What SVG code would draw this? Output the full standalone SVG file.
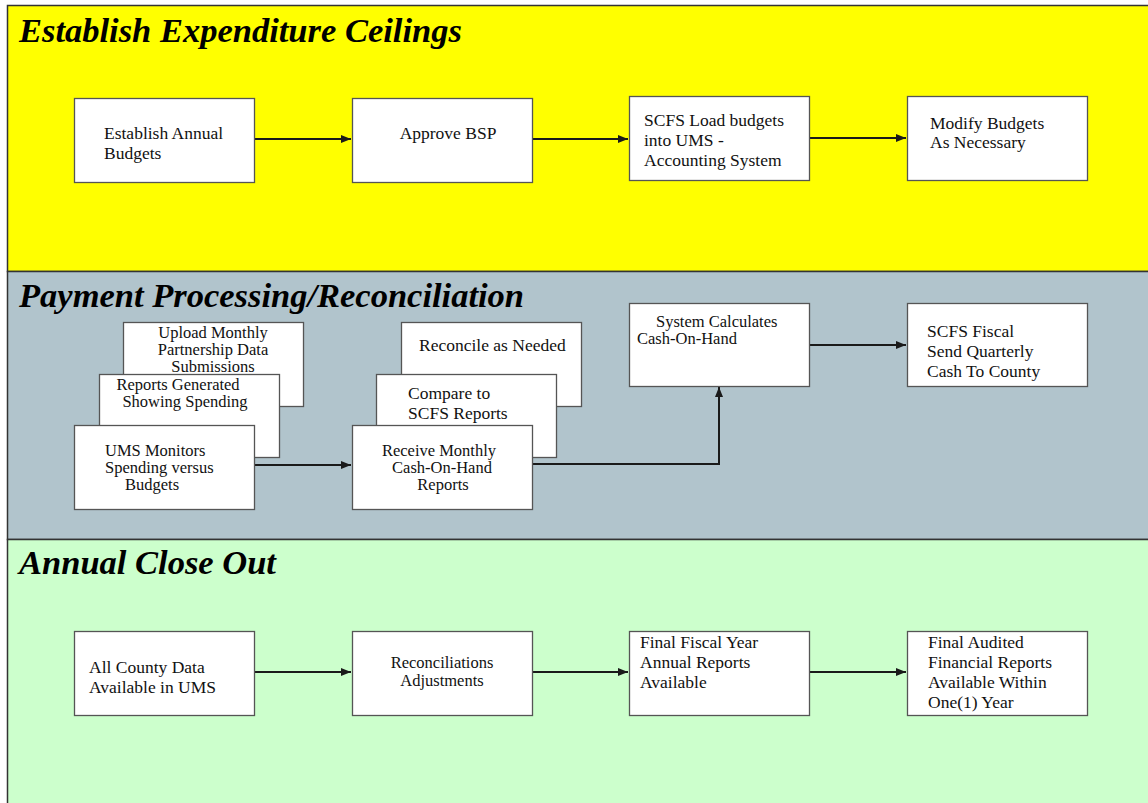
<svg xmlns="http://www.w3.org/2000/svg" width="1148" height="803" viewBox="0 0 1148 803">
<defs>
<marker id="arr" markerWidth="10" markerHeight="8" refX="10" refY="4" orient="auto" markerUnits="userSpaceOnUse">
<path d="M0,0 L10,4 L0,8 Z" fill="#1a1a1a"/>
</marker>
<style>
.lane{stroke:#333;stroke-width:1.5}
.title{font-family:"Liberation Serif",serif;font-style:italic;font-weight:bold;font-size:34.5px;fill:#000}
.box{fill:#fff;stroke:#555;stroke-width:1.3}
.t{font-family:"Liberation Serif",serif;font-size:17.5px;fill:#111}
.s{font-size:16.5px}
.m{text-anchor:middle}
.c{fill:none;stroke:#1a1a1a;stroke-width:2;marker-end:url(#arr)}
</style>
</defs>
<rect width="1148" height="803" fill="#fff"/>
<g id="lanes">
<rect class="lane" x="7.5" y="5.5" width="1150" height="266" fill="#ffff00"/>
<rect class="lane" x="7.5" y="271.5" width="1150" height="268" fill="#b1c4cc"/>
<rect class="lane" x="7.5" y="539.5" width="1150" height="280" fill="#ccffcc"/>
<text class="title" x="19" y="42">Establish Expenditure Ceilings</text>
<text class="title" x="19" y="307">Payment Processing/Reconciliation</text>
<text class="title" x="19" y="574">Annual Close Out</text>
</g>
<g id="connectors">
<line class="c" x1="255" y1="139" x2="351" y2="139"/>
<line class="c" x1="532" y1="139" x2="628" y2="139"/>
<line class="c" x1="809" y1="138" x2="906" y2="138"/>
<line class="c" x1="255" y1="465" x2="351" y2="465"/>
<polyline class="c" points="532,464 719,464 719,387"/>
<line class="c" x1="809" y1="345" x2="906" y2="345"/>
<line class="c" x1="255" y1="672" x2="351" y2="672"/>
<line class="c" x1="532" y1="672" x2="628" y2="672"/>
<line class="c" x1="809" y1="672" x2="906" y2="672"/>
</g>
<g id="n1"><rect class="box" x="74.5" y="98.5" width="180" height="84"/><text class="t" x="104" y="139">Establish Annual</text><text class="t" x="104" y="159">Budgets</text></g>
<g id="n2"><rect class="box" x="352.5" y="98.5" width="180" height="84"/><text class="t m" x="448" y="139">Approve BSP</text></g>
<g id="n3"><rect class="box" x="629.5" y="96.5" width="180" height="84"/><text class="t" x="644" y="126">SCFS Load budgets</text><text class="t" x="644" y="146">into UMS -</text><text class="t" x="644" y="166">Accounting System</text></g>
<g id="n4"><rect class="box" x="907.5" y="96.5" width="180" height="84"/><text class="t" x="930" y="129">Modify Budgets</text><text class="t" x="930" y="148">As Necessary</text></g>
<g id="n5"><rect class="box" x="123.5" y="322.5" width="180" height="84"/><text class="t s m" x="213" y="338">Upload Monthly</text><text class="t s m" x="213" y="355">Partnership Data</text><text class="t s m" x="213" y="372">Submissions</text></g>
<g id="n6"><rect class="box" x="99.5" y="374.5" width="180" height="83"/><text class="t s m" x="178" y="390">Reports Generated</text><text class="t s m" x="185" y="407">Showing Spending</text></g>
<g id="n7"><rect class="box" x="74.5" y="425.5" width="180" height="84"/><text class="t s" x="105" y="456">UMS Monitors</text><text class="t s" x="105" y="473">Spending versus</text><text class="t s" x="125" y="490">Budgets</text></g>
<g id="n8"><rect class="box" x="401.5" y="322.5" width="180" height="84"/><text class="t" x="419" y="351">Reconcile as Needed</text></g>
<g id="n9"><rect class="box" x="376.5" y="374.5" width="180" height="83"/><text class="t" x="408" y="399">Compare to</text><text class="t" x="408" y="419">SCFS Reports</text></g>
<g id="n10"><rect class="box" x="352.5" y="425.5" width="180" height="84"/><text class="t s m" x="439" y="456">Receive Monthly</text><text class="t s m" x="442" y="473">Cash-On-Hand</text><text class="t s m" x="443" y="490">Reports</text></g>
<g id="n11"><rect class="box" x="629.5" y="303.5" width="180" height="83"/><text class="t s" x="656" y="327">System Calculates</text><text class="t s" x="637" y="344">Cash-On-Hand</text></g>
<g id="n12"><rect class="box" x="907.5" y="303.5" width="180" height="83"/><text class="t" x="927" y="337">SCFS Fiscal</text><text class="t" x="927" y="357">Send Quarterly</text><text class="t" x="927" y="377">Cash To County</text></g>
<g id="n13"><rect class="box" x="74.5" y="631.5" width="180" height="84"/><text class="t" x="89" y="673">All County Data</text><text class="t" x="89" y="693">Available in UMS</text></g>
<g id="n14"><rect class="box" x="352.5" y="631.5" width="180" height="84"/><text class="t s m" x="442" y="668">Reconciliations</text><text class="t s m" x="442" y="686">Adjustments</text></g>
<g id="n15"><rect class="box" x="629.5" y="631.5" width="180" height="84"/><text class="t" x="640" y="648">Final Fiscal Year</text><text class="t" x="640" y="668">Annual Reports</text><text class="t" x="640" y="688">Available</text></g>
<g id="n16"><rect class="box" x="907.5" y="631.5" width="180" height="84"/><text class="t" x="928" y="648">Final Audited</text><text class="t" x="928" y="668">Financial Reports</text><text class="t" x="928" y="688">Available Within</text><text class="t" x="928" y="708">One(1) Year</text></g>
</svg>
